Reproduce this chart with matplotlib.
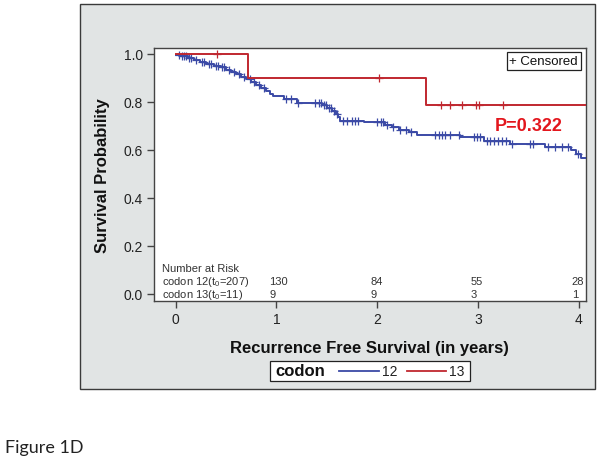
import matplotlib
matplotlib.use("Agg")
import matplotlib.pyplot as plt
from matplotlib.patches import Rectangle
from matplotlib.lines import Line2D
import numpy as np

# ---------------------------------------------------------------------------
# Data (time in years, survival probability)
# ---------------------------------------------------------------------------
# codon 12: step times and the level after each step
C12_T = [0.00, 0.05, 0.12, 0.18, 0.24, 0.30, 0.38, 0.45, 0.50, 0.55, 0.60,
         0.65, 0.70, 0.75, 0.80, 0.85, 0.90, 0.94, 0.97, 1.08, 1.20, 1.45,
         1.50, 1.55, 1.59, 1.61, 1.63, 1.87, 2.08, 2.15, 2.22, 2.32, 2.40,
         2.82, 3.06, 3.32, 3.67, 3.92, 3.97, 4.02]
C12_S = [0.995, 0.990, 0.985, 0.975, 0.965, 0.958, 0.951, 0.945, 0.935, 0.925,
         0.915, 0.905, 0.895, 0.885, 0.870, 0.858, 0.845, 0.834, 0.824, 0.812,
         0.796, 0.787, 0.775, 0.762, 0.748, 0.736, 0.722, 0.715, 0.704, 0.694,
         0.683, 0.674, 0.663, 0.653, 0.639, 0.625, 0.614, 0.598, 0.583, 0.567]
C12_CENS = [0.03, 0.06, 0.08, 0.10, 0.13, 0.15, 0.20, 0.26, 0.28, 0.33, 0.35,
            0.40, 0.42, 0.46, 0.48, 0.53, 0.58, 0.63, 0.68, 0.74, 0.78, 0.83,
            0.88, 1.10, 1.14, 1.21, 1.38, 1.42, 1.44, 1.47, 1.49, 1.52, 1.54,
            1.57, 1.60, 1.66, 1.70, 1.75, 1.78, 1.81, 2.00, 2.04, 2.06, 2.10,
            2.16, 2.23, 2.29, 2.34, 2.575, 2.61, 2.64, 2.67, 2.72, 2.81, 2.96,
            2.99, 3.02, 3.09, 3.12, 3.16, 3.20, 3.24, 3.28, 3.34, 3.52, 3.55,
            3.70, 3.77, 3.83, 3.89, 3.99]

# codon 13
C13_T = [0.00, 0.72, 2.48]
C13_S = [1.000, 0.900, 0.7875]
C13_CENS = [0.41, 2.02, 2.63, 2.72, 2.84, 2.98, 3.01, 3.25]

T_MAX = 4.07

# Number at risk
NAR_T = [1, 2, 3, 4]
NAR_12 = [130, 84, 55, 28]
NAR_13 = [9, 9, 3, 1]

P_TEXT = "P=0.322"

# ---------------------------------------------------------------------------
# Figure
# ---------------------------------------------------------------------------
plt.rcParams.update({
    "font.family": ["Liberation Sans", "DejaVu Sans"],
    "mathtext.fontset": "custom",
    "mathtext.rm": "Liberation Sans",
    "mathtext.it": "Liberation Sans",
    "axes.linewidth": 1.0,
})

C_12 = "#3b4aa6"
C_13 = "#c0272f"
C_P = "#e3161d"
C_TXT = "#333333"
C_AX = "#444444"

fig = plt.figure(figsize=(6.01, 4.64), dpi=100)

# grey panel behind the plot
fig.patches.append(Rectangle((80 / 601, 1 - 390 / 464), 515 / 601, 385 / 464,
                             transform=fig.transFigure, facecolor="#e1e4e4",
                             edgecolor="#3a3a3a", linewidth=1.0, zorder=-1))

ax = fig.add_axes([154 / 601, 1 - 301.7 / 464, 431.7 / 601, 252.7 / 464])
ax.set_zorder(1)
ax.set_facecolor("white")


def km_steps(t, s, tmax):
    xs = list(t) + [tmax]
    ys = list(s) + [s[-1]]
    return xs, ys


def level_at(t, s, x):
    i = np.searchsorted(np.array(t), x, side="right") - 1
    return np.array(s)[i]


x12, y12 = km_steps(C12_T, C12_S, T_MAX)
ax.step(x12, y12, where="post", color=C_12, lw=1.4, zorder=3)
ax.plot(C12_CENS, level_at(C12_T, C12_S, C12_CENS), "+", color=C_12,
        ms=6, mew=0.9, zorder=3)

x13, y13 = km_steps(C13_T, C13_S, T_MAX)
ax.step(x13, y13, where="post", color=C_13, lw=1.4, zorder=4)
ax.plot(C13_CENS, level_at(C13_T, C13_S, C13_CENS), "+", color=C_13,
        ms=6, mew=0.9, zorder=4)

ax.set_xlim(-0.215, T_MAX)
ax.set_ylim(-0.028, 1.025)
ax.set_xticks([0, 1, 2, 3, 4])
ax.set_yticks([0.0, 0.2, 0.4, 0.6, 0.8, 1.0])
ax.yaxis.set_major_formatter(plt.FuncFormatter(lambda v, _: f"{v:.1f}"))
ax.tick_params(direction="out", length=5, width=1.0, color=C_AX,
               labelsize=10, labelcolor="#222222", pad=3)
for sp in ax.spines.values():
    sp.set_color(C_AX)

ax.set_xlabel("Recurrence Free Survival (in years)", fontsize=12,
              fontweight="bold", labelpad=10, color="#111111")
ax.set_ylabel("Survival Probability", fontsize=12, fontweight="bold",
              labelpad=10, color="#111111")

# censored key
ax.text(0.982, 0.949, "+ Censored", transform=ax.transAxes, fontsize=9.5,
        ha="right", va="center", color="#111111",
        bbox=dict(boxstyle="square,pad=0.2", facecolor="white",
                  edgecolor="#222222", linewidth=0.9))

# p-value
ax.text(3.5, 0.7, P_TEXT, fontsize=13, fontweight="bold", color=C_P,
        ha="center", va="center")

# number at risk table
ax.text(-0.14, 0.108, "Number at Risk", fontsize=8, color=C_TXT,
        ha="left", va="center")
ax.text(-0.14, 0.055, "codon 12(t$_0$=207)", fontsize=8, color=C_TXT,
        ha="left", va="center")
ax.text(-0.14, 0.0, "codon 13(t$_0$=11)", fontsize=8, color=C_TXT,
        ha="left", va="center")
for t, n12, n13 in zip(NAR_T, NAR_12, NAR_13):
    ax.text(t - 0.07, 0.055, str(n12), fontsize=8, color=C_TXT,
            ha="left", va="center")
    ax.text(t - 0.07, 0.0, str(n13), fontsize=8, color=C_TXT,
            ha="left", va="center")

# legend box at the bottom of the panel
fig.patches.append(Rectangle((270 / 601, 1 - 382 / 464), 200 / 601, 20 / 464,
                             transform=fig.transFigure, facecolor="white",
                             edgecolor="#222222", linewidth=0.9, zorder=2))
ly = 1 - 372 / 464
fig.text(275 / 601, ly, "codon", fontsize=12, fontweight="bold",
         ha="left", va="center", color="#111111", zorder=3)
fig.lines.append(Line2D([339 / 601, 379 / 601], [ly, ly], color=C_12, lw=1.3,
                        transform=fig.transFigure, zorder=3))
fig.text(382 / 601, ly, "12", fontsize=10, ha="left", va="center",
         color="#222222", zorder=3)
fig.lines.append(Line2D([407 / 601, 446 / 601], [ly, ly], color=C_13, lw=1.3,
                        transform=fig.transFigure, zorder=3))
fig.text(449 / 601, ly, "13", fontsize=10, ha="left", va="center",
         color="#222222", zorder=3)

# caption
fig.text(5 / 601, 1 - 448 / 464, "Figure 1D", fontsize=13, family="Lato",
         ha="left", va="center", color="#222222")

fig.savefig("out.png", dpi=100)
plt.close(fig)
